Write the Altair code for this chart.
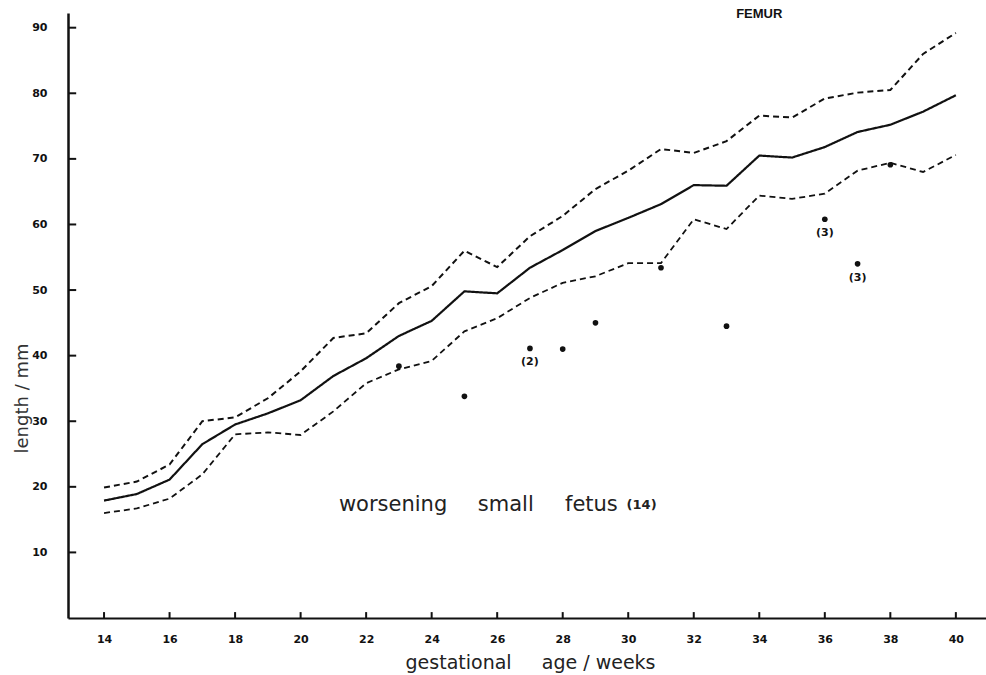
import altair as alt
import pandas as pd

# ---- data ----
weeks = list(range(14, 41))
median = [17.9, 18.9, 21.1, 26.5, 29.5, 31.2, 33.2, 36.9, 39.6, 43.0,
          45.3, 49.8, 49.5, 53.4, 56.1, 59.0, 61.0, 63.1, 66.0, 65.9,
          70.5, 70.2, 71.8, 74.1, 75.2, 77.2, 79.7]
upper = [19.9, 20.8, 23.4, 30.0, 30.6, 33.5, 37.6, 42.7, 43.4, 48.0,
         50.6, 56.0, 53.5, 58.2, 61.3, 65.4, 68.2, 71.5, 70.9, 72.7,
         76.6, 76.3, 79.2, 80.1, 80.5, 86.0, 89.2]
lower = [16.0, 16.7, 18.2, 21.9, 28.0, 28.3, 27.9, 31.5, 35.8, 37.9,
         39.2, 43.7, 45.7, 48.8, 51.1, 52.1, 54.1, 54.1, 60.8, 59.3,
         64.4, 63.9, 64.7, 68.2, 69.4, 68.0, 70.6]

dot_weeks = [23, 25, 27, 28, 29, 31, 33, 36, 37, 38]
dot_mm = [38.4, 33.8, 41.1, 41.0, 45.0, 53.4, 44.5, 60.8, 54.0, 69.1]
dot_counts = ["", "", "(2)", "", "", "", "", "(3)", "(3)", ""]

x_tick_values = list(range(14, 41, 2))
y_tick_values = list(range(10, 91, 10))

series_names = ["median", "upper", "lower"]

# ---- scales ----
X_MIN, X_MAX = 12.90, 40.92
Y_MIN, Y_MAX = 0.0, 92.24
xs = alt.Scale(domain=[X_MIN, X_MAX], nice=False, zero=False)
ys = alt.Scale(domain=[Y_MIN, Y_MAX], nice=False, zero=False)

FONT = "DejaVu Sans"
INK = "#111111"

rows = []
for name, vals in zip(series_names, [median, upper, lower]):
    for w, v in zip(weeks, vals):
        rows.append({"week": w, "mm": v, "series": name})
lines_df = pd.DataFrame(rows)

dots_df = pd.DataFrame({"week": dot_weeks, "mm": dot_mm, "count": dot_counts})

X_TITLE = "gestational\u00a0\u00a0\u00a0\u00a0\u00a0age / weeks"
Y_TITLE = "length / mm"

x_axis = alt.Axis(
    values=x_tick_values, format="d", ticks=False, grid=False,
    domainColor=INK, domainWidth=2,
    labelFont=FONT, labelFontWeight="bold", labelFontSize=11, labelColor=INK,
    labelPadding=15, labelOverlap=False, labelFlush=False,
    title=X_TITLE,
    titleFont=FONT, titleFontSize=19, titleFontWeight="normal", titleColor="#222222",
    titleX=462, titleY=50, titleAlign="center", titleBaseline="alphabetic",
)
y_axis = alt.Axis(
    values=y_tick_values, format="d", ticks=False, grid=False,
    domainColor=INK, domainWidth=2.5,
    labelFont=FONT, labelFontWeight="bold", labelFontSize=11, labelColor=INK,
    labelPadding=21, labelOverlap=False, labelFlush=False,
    title=Y_TITLE,
    titleFont=FONT, titleFontSize=18, titleFontWeight="normal", titleColor="#333333",
    titleX=-46, titleY=385, titleAngle=270, titleAlign="center", titleBaseline="middle",
)

def xf(field):
    return alt.X(field, scale=xs, axis=x_axis, title=X_TITLE)

def yf(field):
    return alt.Y(field, scale=ys, axis=y_axis, title=Y_TITLE)

lines = alt.Chart(lines_df).mark_line(color=INK).encode(
    x=xf("week:Q"),
    y=yf("mm:Q"),
    detail="series:N",
    strokeDash=alt.StrokeDash("series:N", legend=None,
                              scale=alt.Scale(domain=series_names, range=[[1, 0], [6, 4], [6, 4]])),
    strokeWidth=alt.StrokeWidth("series:N", legend=None,
                                scale=alt.Scale(domain=series_names, range=[2.2, 1.8, 1.8])),
)

dots = alt.Chart(dots_df).mark_circle(color=INK, opacity=1, size=32).encode(
    x=xf("week:Q"),
    y=yf("mm:Q"),
)

dot_labels = alt.Chart(dots_df).mark_text(
    font=FONT, fontSize=11, fontWeight="bold", color=INK, dy=14, baseline="middle"
).encode(
    x=xf("week:Q"),
    y=yf("mm:Q"),
    text="count:N",
)

# inward tick marks on the axes
y_ticks_df = pd.DataFrame({"v": y_tick_values})
x_ticks_df = pd.DataFrame({"v": x_tick_values})
y_ticks = alt.Chart(y_ticks_df).mark_rule(color=INK, strokeWidth=2).encode(
    y=yf("v:Q"),
    x=alt.XDatum(X_MIN, scale=xs),
    x2=alt.X2Datum(X_MIN + 0.25),
)
x_ticks = alt.Chart(x_ticks_df).mark_rule(color=INK, strokeWidth=2).encode(
    x=xf("v:Q"),
    y=alt.YDatum(0, scale=ys),
    y2=alt.Y2Datum(0.9),
)

def note(text, wk, mm, size, weight="normal", align="left", color="#222222",
         font=FONT, baseline="alphabetic"):
    return alt.Chart(pd.DataFrame({"t": [text]})).mark_text(
        font=font, fontSize=size, fontWeight=weight, align=align,
        baseline=baseline, color=color
    ).encode(
        x=alt.XDatum(wk, scale=xs),
        y=alt.YDatum(mm, scale=ys),
        text="t:N",
    )

notes = [
    note("FEMUR", 34.0, 92.09, 13, weight="bold", align="center", color=INK,
         font="Liberation Sans", baseline="middle"),
    note("worsening", 21.17, 16.25, 21),
    note("small", 25.41, 16.25, 21),
    note("fetus", 28.07, 16.25, 21),
    note("(14)", 29.95, 16.6, 13, weight="bold"),
]

chart = alt.layer(
    lines, x_ticks, y_ticks, dots, dot_labels, *notes
).properties(
    width=918, height=605,
    padding={"left": 68, "top": 13, "right": 0, "bottom": 57},
    autosize="none",
    background="white",
).configure_view(stroke=None)

chart.save("out.html", embed_options={"renderer": "svg", "actions": False})
